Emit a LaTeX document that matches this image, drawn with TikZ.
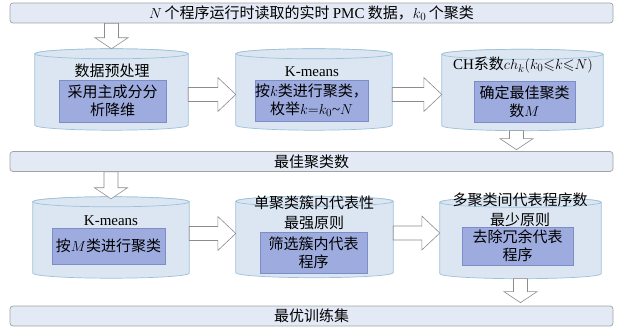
\documentclass[tikz,border=0pt]{standalone}
\usepackage{amssymb}
\usepackage{fontspec}
\setmainfont{Liberation Serif}
\newfontfamily\cjk{Noto Sans CJK SC}
\usetikzlibrary{calc}

\definecolor{barfill}{HTML}{E3E9F5}
\definecolor{bardraw}{HTML}{A3A3A3}
\definecolor{cylfill}{HTML}{DCE6F2}
\definecolor{cyldraw}{HTML}{9CC2D8}
\definecolor{infill}{HTML}{9DABDF}
\definecolor{indraw}{HTML}{7D8DC6}
\definecolor{arrdraw}{HTML}{8C8C8C}

\tikzset{
  bar/.style={draw=bardraw, fill=barfill, rounded corners=3pt, line width=0.7pt,
    minimum width=603pt, minimum height=20pt, inner sep=0pt,
    font=\cjk\fontsize{15}{18}\selectfont},
  cylbox/.style={minimum height=81pt, inner sep=0pt},
  cylline/.style={draw=cyldraw, fill=cylfill, line width=0.7pt},
  inbox/.style={draw=indraw, fill=infill, line width=0.5pt, inner sep=0pt,
    align=center, font=\cjk\fontsize{15}{18}\selectfont},
  headtext/.style={inner sep=0pt, align=center, font=\cjk\fontsize{15}{20}\selectfont},
  fat/.style={draw=arrdraw, fill=white, line width=0.6pt, line join=miter}
}

% cylinder drawn round an empty box node
\newcommand{\cylshape}[1]{%
  \path[cylline] let \p1=(#1.west), \p2=(#1.east), \n1={(\x2-\x1)/2} in
    ([yshift=-5pt]#1.north west) -- ([yshift=5pt]#1.south west)
    arc[start angle=180, end angle=360, x radius=\n1, y radius=5pt]
    -- ([yshift=-5pt]#1.north east)
    arc[start angle=0, end angle=180, x radius=\n1, y radius=5pt] -- cycle;
  \path[cylline] let \p1=(#1.west), \p2=(#1.east), \n1={(\x2-\x1)/2} in
    ([yshift=-5pt]#1.north) ellipse[x radius=\n1, y radius=5pt];
}
% block arrow to the right: y from the first point, x from the second
\newcommand{\rfat}[2]{%
  \path[fat] let \p1=#1, \p2=#2 in
    (\x1,\y1+7pt) -- (\x2-18pt,\y1+7pt) -- (\x2-18pt,\y1+17pt) -- (\x2,\y1)
    -- (\x2-18pt,\y1-17pt) -- (\x2-18pt,\y1-7pt) -- (\x1,\y1-7pt) -- cycle;
}
% block arrow downwards: x from the first point, y from the second
\newcommand{\dfat}[2]{%
  \path[fat] let \p1=#1, \p2=#2 in
    (\x1-7pt,\y1) -- (\x1-7pt,\y2+11pt) -- (\x1-16.5pt,\y2+11pt) -- (\x1,\y2)
    -- (\x1+16.5pt,\y2+11pt) -- (\x1+7pt,\y2+11pt) -- (\x1+7pt,\y1) -- cycle;
}

\begin{document}
\begin{tikzpicture}[x=1pt, y=-1pt]
\useasboundingbox (0,0) rectangle (623,328);

\node[bar] (top) at (311.5,13) {$N$\,个程序运行时读取的实时 \textrm{PMC} 数据，$k_0$\,个聚类};
\node[bar] (mid) at (311.5,161.5) {最佳聚类数};
\node[bar] (bot) at (311.5,316) {最优训练集};

\node[cylbox, minimum width=153pt] (c1) at (111.5,89.5) {};
\node[cylbox, minimum width=156pt] (c2) at (314,89.5) {};
\node[cylbox, minimum width=161pt] (c3) at (522.5,90) {};
\node[cylbox, minimum width=156pt] (c4) at (111,237.5) {};
\node[cylbox, minimum width=157pt] (c5) at (314.5,237) {};
\node[cylbox, minimum width=161pt] (c6) at (520.5,238) {};

\cylshape{c1}
\cylshape{c2}
\cylshape{c3}
\cylshape{c4}
\cylshape{c5}
\cylshape{c6}

\dfat{(top.south -| c1.north)}{(c1.north)}
\rfat{([yshift=-5pt]c1.east)}{(c2.west)}
\rfat{([yshift=-5pt]c2.east)}{(c3.west)}
\dfat{([xshift=-6pt]c3.south)}{([yshift=1.5pt]mid.north)}
\dfat{(mid.south -| c4.north)}{([yshift=-2pt]c4.north)}
\rfat{([yshift=4pt]c4.east)}{(c5.west)}
\rfat{([yshift=4pt]c5.east)}{(c6.west)}
\dfat{(c6.south)}{([yshift=3pt]bot.north)}

\node[headtext] (t1) at (112,71) {数据预处理};
\node[headtext] (t2) at (312,72) {\textrm{K-means}};
\node[headtext] (t3) at (523,65) {\textrm{CH}系数$ch_k(k_0{\leqslant}k{\leqslant}N)$};
\node[headtext] (t4) at (111,221) {\textrm{K-means}};
\node[headtext] (t5) at (314,213) {单聚类簇内代表性\\最强原则};
\node[headtext] (t6) at (520,209.5) {多聚类间代表程序数\\最少原则};

\node[inbox, minimum width=107pt, minimum height=42pt] (r1) at (112.5,101) {采用主成分分\\析降维};
\node[inbox, minimum width=111pt, minimum height=41pt] (r2) at (311.5,100.5) {按$k$类进行聚类，\\枚举$k{=}k_0$\textrm{\textasciitilde}$N$};
\node[inbox, minimum width=101pt, minimum height=41pt] (r3) at (524.5,101.5) {确定最佳聚类\\数$M$};
\node[inbox, minimum width=113pt, minimum height=36pt] (r4) at (108.5,246) {按$M$类进行聚类};
\node[inbox, minimum width=107pt, minimum height=41pt] (r5) at (313.5,252.5) {筛选簇内代表\\程序};
\node[inbox, minimum width=111pt, minimum height=38pt] (r6) at (517.5,246) {去除冗余代表\\程序};
\end{tikzpicture}
\end{document}
